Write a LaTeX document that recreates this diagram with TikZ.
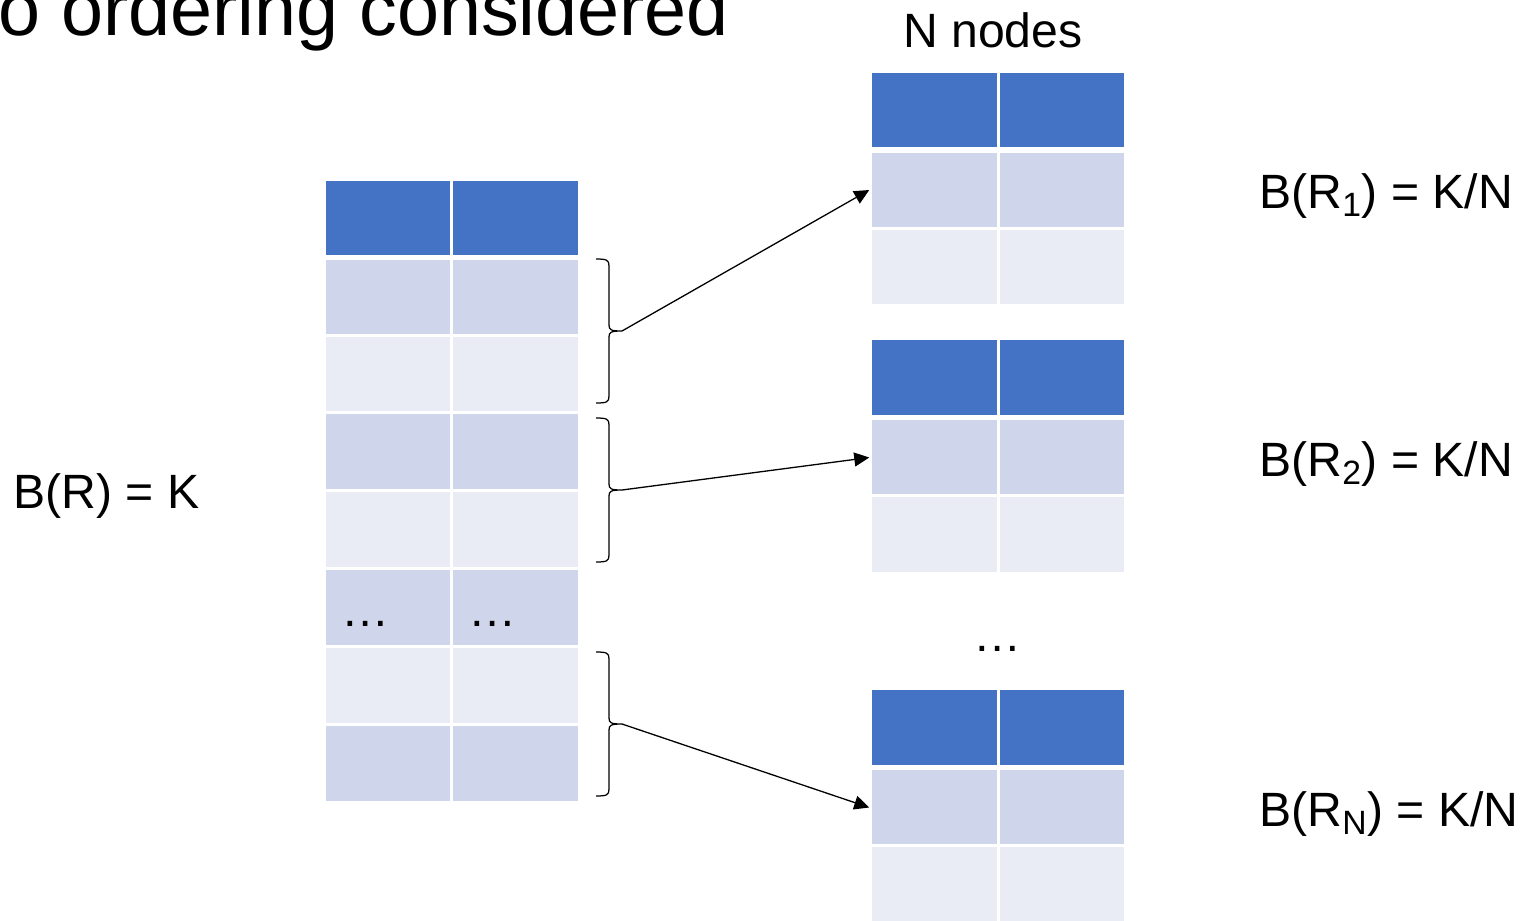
\documentclass[tikz,border=0pt]{standalone}
\usepackage{fontspec}
\setmainfont{Liberation Sans}
\usetikzlibrary{arrows.meta}
\definecolor{hdr}{HTML}{4472C4}
\definecolor{rowd}{HTML}{CFD5EA}
\definecolor{rowl}{HTML}{E9EBF5}
\begin{document}
\begin{tikzpicture}[x=0.02cm,y=-0.02cm,font=\fontsize{27.4}{33}\selectfont]

\def\cw{2.55cm}
\def\ch{1.554cm}
\tikzstyle{cell} = [
	draw=white, line width=0.06cm, rectangle,
	minimum height=\ch, minimum width=\cw,
	text width=1.88cm, align=left ];
\tikzstyle{plain} = [inner sep=0pt];
\tikzstyle{brc} = [line width=0.025cm];
\tikzstyle{arr} = [-{Triangle[length=0.3cm,width=0.28cm]}, line width=0.026cm];
\useasboundingbox (0,0) rectangle (1522,920);

% relation R
\foreach \c/\x in {0/388,1/515.5} {
	\node[cell,fill=hdr] (l-h-\c) at (\x,218) {};
	\foreach \r/\y/\f/\t in {1/297.5/rowd/{},2/374/rowl/{},3/451.5/rowd/{},4/529.5/rowl/{},5/607.5/rowd/…,6/685.5/rowl/{},7/763.5/rowd/{}}
		\node[cell,fill=\f] (l-\r-\c) at (\x,\y) {\smash{\raisebox{-0.38cm}{\t}}};
}

% the N partitions
\foreach \t/\y in {1/110,2/377.5,3/727.5}
	\foreach \c/\x in {0/934.5,1/1062} {
		\node[cell,fill=hdr] (r\t-h-\c) at (\x,\y) {};
		\node[cell,fill=rowd] (r\t-1-\c) at (\x,\y+80) {};
		\node[cell,fill=rowl] (r\t-2-\c) at (\x,\y+157) {};
	}

% braces
\foreach \b/\y in {1/259,2/418,3/652} {
	\draw[brc] (596,\y) .. controls (607,\y) and (609,\y+1) .. (609,\y+7)
		-- (609,\y+66) .. controls (609,\y+71) and (611,\y+72) .. (622,\y+72)
		.. controls (611,\y+72) and (609,\y+73) .. (609,\y+78)
		-- (609,\y+137) .. controls (609,\y+143) and (607,\y+144) .. (596,\y+144);
	\coordinate (b\b) at (622,\y+72);
}

\draw[arr] (b1) -- (r1-1-0.west);
\draw[arr] (b2) -- (r2-1-0.west);
\draw[arr] (b3) -- (r3-1-0.west);

\node[plain,anchor=base west,font=\fontsize{43}{50}\selectfont] (title) at (-2,35) {o ordering considered};
\node[plain,anchor=base west] (nn) at (903,47) {N nodes};
\node[plain,anchor=base] (more) at (997.5,651) {…};
\node[plain,anchor=base west] (kr) at (13,508) {B(R) = K};
\node[plain,anchor=base west] (k1) at (1259,208) {B(R\textsubscript{1}) = K/N};
\node[plain,anchor=base west] (k2) at (1259,476) {B(R\textsubscript{2}) = K/N};
\node[plain,anchor=base west] (kn) at (1259,826) {B(R\textsubscript{N}) = K/N};

\end{tikzpicture}
\end{document}
